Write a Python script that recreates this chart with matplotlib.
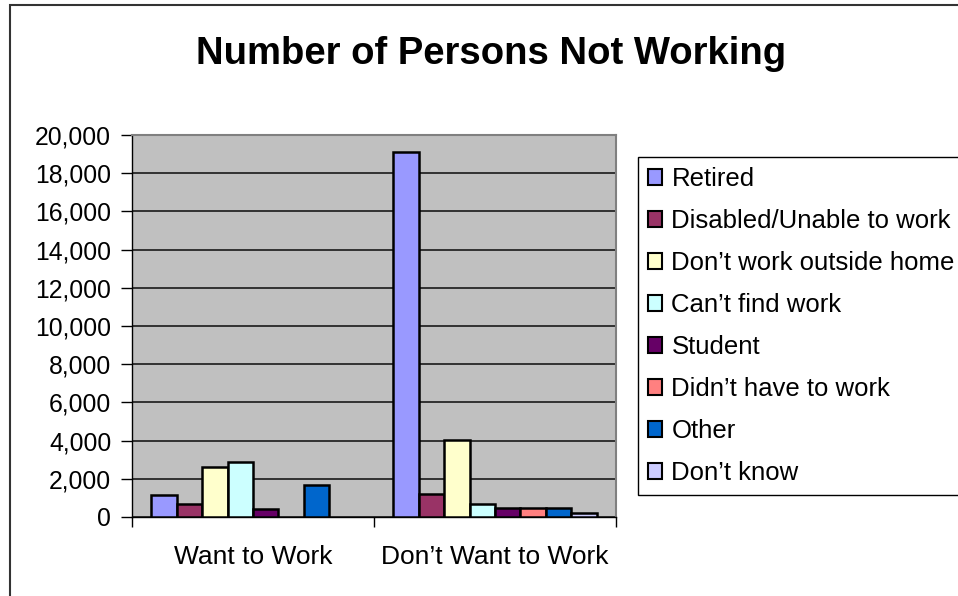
import matplotlib
matplotlib.use("Agg")
import matplotlib.pyplot as plt
import matplotlib.patches as mpatches
from matplotlib.ticker import FuncFormatter, FixedLocator
import numpy as np

plt.rcParams['font.family'] = ['Liberation Sans', 'DejaVu Sans']

categories = ["Want to Work", "Don\u2019t Want to Work"]
series_names = ["Retired", "Disabled/Unable to work", "Don\u2019t work outside home",
                "Can\u2019t find work", "Student", "Didn\u2019t have to work", "Other", "Don\u2019t know"]
values_want = [1150, 700, 2600, 2900, 400, 0, 1650, 0]
values_dont_want = [19100, 1200, 4050, 700, 450, 450, 480, 200]
colors = ["#9999FF", "#993366", "#FFFFCC", "#CCFFFF", "#660066", "#FF8080", "#0066CC", "#CCCCFF"]
yticks = [0, 2000, 4000, 6000, 8000, 10000, 12000, 14000, 16000, 18000, 20000]

W, H = 958, 596
fig = plt.figure(figsize=(W/100, H/100), dpi=100)
fig.patch.set_facecolor("white")

ax = fig.add_axes([132/W, 1 - 517/H, (616-132)/W, (517-135)/H])
ax.set_facecolor("#C0C0C0")

n = len(series_names)
bw = 1 / 9.5
x = np.arange(len(categories))
for i in range(n):
    vals = [values_want[i], values_dont_want[i]]
    lws = [1.8 if v > 0 else 0 for v in vals]
    ax.bar(x + (i - (n - 1) / 2) * bw, vals, width=bw, color=colors[i],
           edgecolor="black", linewidth=lws, label=series_names[i], zorder=3)

ax.set_xlim(-0.5, 1.5)
ax.set_ylim(0, 20000)
ax.set_yticks(yticks)
ax.yaxis.set_major_formatter(FuncFormatter(lambda v, p: f"{int(v):,}"))
ax.yaxis.grid(True, color="#1a1a1a", linewidth=1.2, zorder=1)
ax.set_axisbelow(True)

ax.xaxis.set_major_locator(FixedLocator([-0.5, 0.5, 1.5]))
ax.xaxis.set_major_formatter(FuncFormatter(lambda v, p: ""))
ax.xaxis.set_minor_locator(FixedLocator(list(x)))
ax.set_xticklabels(categories, minor=True)
ax.tick_params(axis="x", which="major", length=7, width=1, direction="out")
ax.tick_params(axis="x", which="minor", length=0, pad=20, labelsize=19)
ax.tick_params(axis="y", length=8, width=1, direction="out", pad=7, labelsize=17.8)

for s in ["top", "right"]:
    ax.spines[s].set_color("#808080")
    ax.spines[s].set_linewidth(1.5)
for s in ["left", "bottom"]:
    ax.spines[s].set_color("black")
    ax.spines[s].set_linewidth(1)

fig.text(491/W, 1 - 54/H, "Number of Persons Not Working", ha="center", va="center",
         fontsize=27.5, fontweight="bold")

leg = fig.legend(loc="upper left", bbox_to_anchor=(638/W, 1 - 157/H), fontsize=18.5,
                 frameon=True, fancybox=False, edgecolor="black", framealpha=1,
                 handlelength=0.55, handleheight=0.55, handletextpad=0.35,
                 labelspacing=0.7, borderpad=0.4, borderaxespad=0)
leg.get_frame().set_linewidth(1)
for h in leg.legend_handles:
    h.set_linewidth(1.5)

border = mpatches.Rectangle((10/W, -0.1), 1.2, (1 - 5/H) + 0.1, transform=fig.transFigure,
                            fill=False, edgecolor="#333333", linewidth=1.5, clip_on=False)
fig.patches.append(border)

fig.savefig("out.png", dpi=100)
